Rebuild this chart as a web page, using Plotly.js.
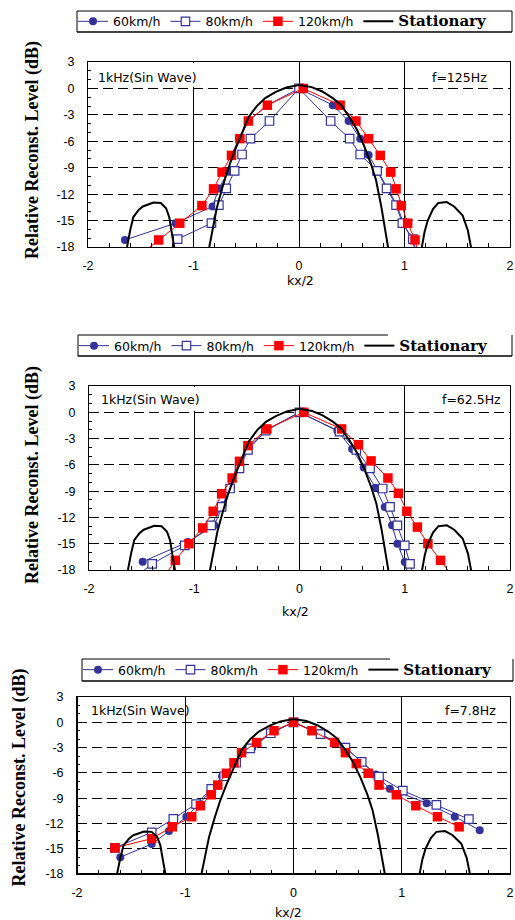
<!DOCTYPE html>
<html>
<head>
<meta charset="utf-8">
<script src="https://cdn.plot.ly/plotly-3.0.1.min.js"></script>
<style>html,body{margin:0;padding:0;background:#fff;}#chart{width:515px;height:920px;}</style>
</head>
<body>
<div id="chart"></div>
<script>
// ---------- data ----------
const seriesNames = ["60km/h", "80km/h", "120km/h", "Stationary"];
const xTickVals = [-2, -1, 0, 1, 2];
const xTickText = ["-2", "-1", "0", "1", "2"];
const yTickVals = [3, 0, -3, -6, -9, -12, -15, -18];
const yTickText = ["3", "0", "-3", "-6", "-9", "-12", "-15", "-18"];
const panelFreq = ["f=125Hz", "f=62.5Hz", "f=7.8Hz"];
const signalLabel = "1kHz(Sin Wave)";

// Stationary (theoretical) response, same in each panel
const statX = [-1.645, -1.63, -1.60, -1.57, -1.52, -1.48, -1.38, -1.31, -1.26, -1.23, -1.21, -1.18, -1.175, null,
  -0.86, -0.82, -0.78, -0.73, -0.68, -0.62, -0.55, -0.48, -0.40, -0.32, -0.22, -0.12, 0.0, 0.12, 0.22, 0.32, 0.40, 0.48, 0.55, 0.62, 0.68, 0.73, 0.78, 0.82, 0.855, null,
  1.16, 1.165, 1.19, 1.22, 1.27, 1.32, 1.40, 1.47, 1.55, 1.60, 1.63, 1.635];
const statY = [-18.6, -18.0, -16.1, -14.6, -13.8, -13.4, -12.95, -13.0, -13.6, -14.6, -16.1, -18.0, -18.6, null,
  -18.6, -16.0, -13.6, -11.4, -9.4, -7.4, -5.3, -3.3, -2.0, -1.1, -0.4, 0.1, 0.4, 0.15, -0.35, -1.1, -1.9, -3.3, -4.7, -6.6, -8.5, -10.4, -13.4, -16.2, -18.8, null,
  -18.6, -18.0, -16.3, -15.0, -13.7, -13.0, -12.9, -13.4, -14.4, -16.1, -18.0, -18.6];

// Panel 1: f=125Hz
const p1x60 = [-1.65, -1.17, -0.82, -0.76, -0.67, -0.64, -0.57, -0.48, -0.30, 0.0, 0.32, 0.47, 0.58, 0.66, 0.75, 0.84, 0.93, 0.99, 1.07, 1.12];
const p1y60 = [-17.2, -15.3, -13.4, -11.35, -9.46, -7.6, -5.7, -3.7, -1.9, 0, -1.9, -3.7, -5.7, -7.57, -9.45, -11.4, -13.3, -15.3, -17.2, -19.0];
const p1x80 = [-1.15, -0.83, -0.76, -0.69, -0.61, -0.54, -0.46, -0.28, 0.0, 0.30, 0.48, 0.58, 0.74, 0.83, 0.92, 0.98, 1.08, 1.12];
const p1y80 = [-17.1, -15.3, -13.25, -11.35, -9.35, -7.5, -5.7, -3.7, 0, -3.7, -5.7, -7.5, -9.35, -11.35, -13.25, -15.3, -17.1, -19.0];
const p1x120 = [-1.57, -1.33, -1.13, -0.92, -0.81, -0.73, -0.64, -0.56, -0.48, -0.30, 0.04, 0.39, 0.54, 0.66, 0.77, 0.87, 0.92, 0.97, 1.03, 1.10, 1.14];
const p1y120 = [-19.5, -17.2, -15.3, -13.3, -11.4, -9.5, -7.6, -5.7, -3.7, -1.9, 0, -1.9, -3.7, -5.7, -7.6, -9.5, -11.4, -13.3, -15.3, -17.2, -19.2];

// Panel 2: f=62.5Hz
const p2x60 = [-1.49, -1.06, -0.81, -0.73, -0.65, -0.57, -0.49, -0.31, 0.0, 0.36, 0.50, 0.61, 0.72, 0.81, 0.88, 0.93, 1.00, 1.045];
const p2y60 = [-17.05, -14.8, -12.9, -10.6, -8.5, -6.2, -4.1, -2.0, 0, -2.1, -4.2, -6.3, -8.6, -10.8, -12.9, -15.0, -17.1, -19.0];
const p2x80 = [-1.58, -1.40, -1.09, -0.84, -0.74, -0.66, -0.57, -0.49, -0.32, 0.0, 0.38, 0.54, 0.67, 0.79, 0.86, 0.93, 1.00, 1.05, 1.09];
const p2y80 = [-19.0, -17.3, -15.2, -12.9, -10.8, -8.7, -6.4, -4.3, -2.1, 0, -2.2, -4.3, -6.4, -8.7, -10.8, -12.9, -15.2, -17.3, -19.0];
const p2x120 = [-1.30, -1.18, -1.05, -0.92, -0.82, -0.74, -0.64, -0.57, -0.49, -0.31, 0.04, 0.40, 0.56, 0.68, 0.84, 0.94, 1.02, 1.12, 1.22, 1.34, 1.47];
const p2y120 = [-19.0, -16.9, -15.0, -13.2, -11.3, -9.3, -7.5, -5.6, -3.8, -1.9, 0, -1.9, -3.7, -5.55, -7.5, -9.25, -11.3, -13.1, -15.0, -16.9, -19.0];

// Panel 3: f=7.8Hz
const p3x60 = [-1.60, -1.31, -1.15, -0.99, -0.87, -0.76, -0.66, -0.53, -0.38, -0.20, 0.0, 0.24, 0.47, 0.62, 0.76, 0.89, 1.23, 1.49, 1.72];
const p3y60 = [-16.0, -14.45, -12.9, -11.2, -9.7, -8.0, -6.4, -4.7, -3.0, -1.2, 0, -1.3, -2.9, -4.6, -6.2, -7.9, -9.6, -11.2, -12.8];
const p3x80 = [-1.65, -1.31, -1.11, -0.90, -0.76, -0.64, -0.53, -0.40, -0.21, 0.0, 0.25, 0.48, 0.63, 0.79, 1.01, 1.32, 1.62];
const p3y80 = [-14.9, -13.05, -11.45, -9.7, -7.9, -6.4, -4.8, -3.1, -1.3, 0, -1.4, -3.0, -4.7, -6.45, -8.1, -9.8, -11.5];
const p3x120 = [-1.65, -1.31, -1.12, -0.94, -0.86, -0.76, -0.70, -0.62, -0.55, -0.48, -0.34, -0.18, 0.0, 0.17, 0.38, 0.48, 0.58, 0.69, 0.79, 0.95, 1.13, 1.33, 1.53];
const p3y120 = [-14.9, -13.8, -12.4, -11.2, -9.9, -8.6, -7.45, -6.05, -4.8, -3.6, -2.4, -1.0, 0, -1.0, -2.4, -3.6, -4.9, -6.05, -7.45, -8.6, -9.9, -11.2, -12.4];

// ---------- layout helpers ----------
const W = 515, H = 920;
const px = v => v / W;
const py = v => 1 - v / H;
const BLUE = '#333399', RED = '#ff0000';
const tickFont = {family: 'Liberation Sans, Arial, sans-serif', size: 12.5, color: '#000'};
const txtFont = {family: 'DejaVu Sans, sans-serif', size: 12.5, color: '#000'};

function xAxis(l, r, anchor) {
  return {domain: [px(l), px(r)], anchor: anchor, range: [-2, 2], tickmode: 'array', tickvals: xTickVals, ticktext: xTickText,
    showline: true, mirror: true, linecolor: '#000', linewidth: 1, ticks: 'inside', ticklen: 4, tickcolor: '#000',
    showgrid: true, gridcolor: '#000', gridwidth: 1, zeroline: false, tickfont: tickFont, ticklabelstandoff: 7,
    ticklabeloverflow: 'allow',
    minor: {tickmode: 'linear', tick0: 0, dtick: 0.2, ticks: 'inside', ticklen: 4, tickcolor: '#000', showgrid: false},
    fixedrange: true};
}
function yAxis(top, bottom, anchor) {
  return {domain: [py(bottom), py(top)], anchor: anchor, range: [-18, 3], tickmode: 'array', tickvals: yTickVals, ticktext: yTickText,
    showline: true, mirror: true, linecolor: '#000', linewidth: 1, ticks: 'inside', ticklen: 4, tickcolor: '#000',
    showgrid: true, gridcolor: '#000', gridwidth: 1, griddash: '10px,5px', zeroline: false, tickfont: tickFont, ticklabelstandoff: 10,
    minor: {tickmode: 'linear', tick0: 0, dtick: 1, ticks: 'inside', ticklen: 3, tickcolor: '#000', showgrid: false},
    fixedrange: true};
}
function legendCfg(x, yc) {
  return {orientation: 'h', x: px(x), xanchor: 'left', y: py(yc), yanchor: 'middle', bgcolor: 'rgba(0,0,0,0)', borderwidth: 0,
    font: txtFont, itemwidth: 30, traceorder: 'normal', itemclick: false, itemdoubleclick: false};
}
const statName = '<b><span style="font-family:DejaVu Serif;font-size:15px">' + seriesNames[3] + '</span></b>';

function panelTraces(xr, yr, leg, d60x, d60y, d80x, d80y, d120x, d120y) {
  return [
    {x: d60x, y: d60y, xaxis: xr, yaxis: yr, legend: leg, name: seriesNames[0], type: 'scatter', mode: 'lines+markers',
      line: {color: BLUE, width: 1}, marker: {symbol: 'circle', size: 8, color: BLUE}},
    {x: d80x, y: d80y, xaxis: xr, yaxis: yr, legend: leg, name: seriesNames[1], type: 'scatter', mode: 'lines+markers',
      line: {color: BLUE, width: 1}, marker: {symbol: 'square', size: 8.5, color: '#fff', line: {color: BLUE, width: 1.2}}},
    {x: d120x, y: d120y, xaxis: xr, yaxis: yr, legend: leg, name: seriesNames[2], type: 'scatter', mode: 'lines+markers',
      line: {color: RED, width: 1}, marker: {symbol: 'square', size: 9.5, color: RED}},
    {x: statX, y: statY, xaxis: xr, yaxis: yr, legend: leg, name: statName, type: 'scatter', mode: 'lines', connectgaps: false,
      line: {color: '#000', width: 2}}
  ];
}

const data = [].concat(
  panelTraces('x', 'y', 'legend', p1x60, p1y60, p1x80, p1y80, p1x120, p1y120),
  panelTraces('x2', 'y2', 'legend2', p2x60, p2y60, p2x80, p2y80, p2x120, p2y120),
  panelTraces('x3', 'y3', 'legend3', p3x60, p3y60, p3x80, p3y80, p3x120, p3y120)
);

function line(x0, y0, x1, y1, w) {
  return {type: 'line', xref: 'paper', yref: 'paper', x0: px(x0), y0: py(y0), x1: px(x1), y1: py(y1), line: {color: '#000', width: w || 1}};
}
const shapes = [
  // legend boxes
  line(77, 11, 512, 11), line(77, 32, 512, 32, 1.5), line(77, 11, 77, 32), line(512, 11, 512, 32),
  line(78, 335, 388, 335), line(78, 356, 512, 356, 1.5), line(78, 335, 78, 356), line(512, 335, 512, 356),
  line(82, 659, 390, 659), line(82, 681, 513, 681, 1.5), line(82, 659, 82, 681), line(513, 659, 513, 681),
  // white boxes behind signal labels (panels 1 and 2)
  {type: 'rect', xref: 'x domain', yref: 'y domain', x0: 0.012, x1: 0.262, y0: 0.866, y1: 0.994, fillcolor: '#fff', line: {width: 0}, layer: 'above'},
  {type: 'rect', xref: 'x2 domain', yref: 'y2 domain', x0: 0.012, x1: 0.266, y0: 0.866, y1: 0.994, fillcolor: '#fff', line: {width: 0}, layer: 'above'},
  // heavier bottom/left frame in panel 3
  {type: 'line', xref: 'x3 domain', yref: 'y3 domain', x0: 0, x1: 1, y0: 0, y1: 0, line: {color: '#000', width: 2}, layer: 'above'},
  {type: 'line', xref: 'x3 domain', yref: 'y3 domain', x0: 0, x1: 0, y0: 0, y1: 1, line: {color: '#000', width: 2}, layer: 'above'}
];

function ann(x, y, text, xanchor, font, extra) {
  return Object.assign({xref: 'paper', yref: 'paper', x: px(x), y: py(y), text: text, showarrow: false, xanchor: xanchor, yanchor: 'middle', font: font}, extra || {});
}
const yTitleFont = {family: 'Liberation Serif, Times New Roman, serif', size: 18, color: '#000'};
const yTitle = '<b>Relative Reconst. Level (dB)</b>';
const annotations = [
  ann(32, 150, yTitle, 'center', yTitleFont, {textangle: -90}),
  ann(33, 475, yTitle, 'center', yTitleFont, {textangle: -90}),
  ann(18.5, 778, yTitle, 'center', yTitleFont, {textangle: -90}),
  ann(300, 281, 'kx/2', 'center', txtFont),
  ann(295.5, 611, 'kx/2', 'center', txtFont),
  ann(288, 912, 'kx/2', 'center', txtFont),
  ann(95.5, 77, signalLabel, 'left', txtFont),
  ann(99, 400, signalLabel, 'left', txtFont),
  ann(89, 710, signalLabel, 'left', txtFont),
  ann(489, 77, panelFreq[0], 'right', txtFont),
  ann(503, 400, panelFreq[1], 'right', txtFont),
  ann(498, 710, panelFreq[2], 'right', txtFont)
];

const layout = {
  width: W, height: H, margin: {l: 0, r: 0, t: 0, b: 0}, paper_bgcolor: '#fff', plot_bgcolor: '#fff',
  showlegend: true,
  xaxis: xAxis(88, 510, 'y'), yaxis: yAxis(62, 247, 'x'),
  xaxis2: xAxis(89, 510, 'y2'), yaxis2: yAxis(386, 570, 'x2'),
  xaxis3: xAxis(77, 510, 'y3'), yaxis3: yAxis(697, 874, 'x3'),
  legend: legendCfg(73, 21.7), legend2: legendCfg(74, 346), legend3: legendCfg(78, 670),
  shapes: shapes, annotations: annotations
};

Plotly.newPlot('chart', data, layout, {displayModeBar: false, staticPlot: true});
</script>
</body>
</html>
